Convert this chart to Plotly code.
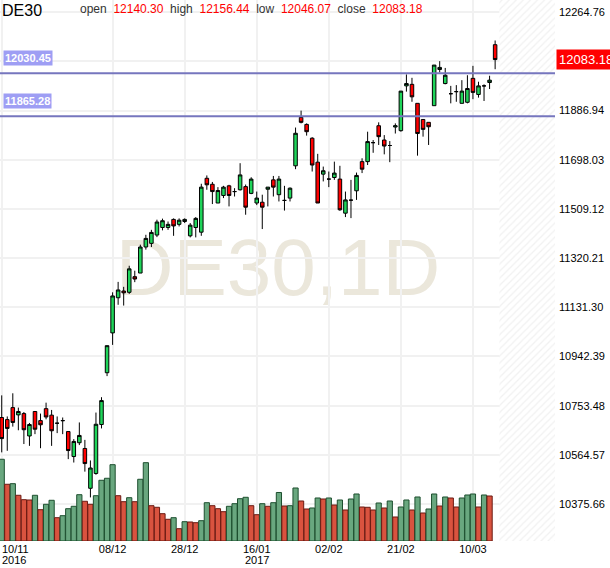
import pandas as pd
import plotly.graph_objects as go

# trading days on the chart (Dec 26 closed)
dates = [d.strftime("%Y-%m-%d") for d in
         pd.bdate_range("2016-11-10", "2017-03-16", freq="C", holidays=["2016-12-26"])]

opens = [10708, 10700, 10746, 10718, 10723, 10637, 10731, 10696, 10742, 10717,
         10686, 10696, 10654, 10558, 10611, 10589, 10436, 10493, 10681, 10880,
         11033, 11168, 11194, 11189, 11249, 11263, 11363, 11377, 11409, 11438,
         11438, 11469, 11450, 11461, 11406, 11438, 11420, 11627, 11604, 11532,
         11561, 11598, 11576, 11583, 11595, 11569, 11532, 11535, 11585, 11621,
         11564, 11542, 11551, 11675, 11861, 11834, 11781, 11689, 11643, 11624,
         11630, 11624, 11493, 11543, 11579, 11691, 11691, 11764, 11829, 11774,
         11753, 11824, 11810, 11982, 11988, 11915, 11853, 11842, 11906, 12045,
         11991, 11952, 11960, 11915, 11919, 12011, 11949, 11982, 11995, 12140.30]
highs = [10793, 10712, 10801, 10746, 10729, 10687, 10733, 10723, 10765, 10737,
         10712, 10708, 10654, 10625, 10689, 10622, 10543, 10727, 10786, 10984,
         11189, 11229, 11210, 11291, 11272, 11372, 11410, 11429, 11468, 11472,
         11461, 11473, 11473, 11473, 11455, 11478, 11606, 11638, 11613, 11593,
         11598, 11602, 11589, 11685, 11603, 11631, 11576, 11564, 11593, 11636,
         11636, 11598, 11592, 11822, 11887, 11838, 11785, 11721, 11672, 11653,
         11691, 11675, 11576, 11621, 11649, 11704, 11806, 11774, 11842, 11793,
         11770, 11838, 11962, 12026, 12013, 11915, 11853, 11842, 12062, 12077,
         12051, 11982, 11985, 12004, 12023, 12059, 11998, 11988, 12021, 12156.44]
lows = [10574, 10580, 10673, 10659, 10606, 10599, 10644, 10590, 10701, 10599,
        10648, 10644, 10548, 10535, 10602, 10500, 10401, 10488, 10666, 10867,
        10987, 11141, 11138, 11183, 11228, 11263, 11353, 11363, 11401, 11427,
        11429, 11406, 11442, 11455, 11400, 11400, 11406, 11583, 11528, 11532,
        11551, 11519, 11557, 11580, 11487, 11566, 11524, 11432, 11519, 11557,
        11538, 11503, 11538, 11662, 11838, 11791, 11653, 11532, 11615, 11593,
        11621, 11502, 11478, 11474, 11544, 11647, 11678, 11725, 11755, 11719,
        11689, 11799, 11806, 11960, 11921, 11714, 11787, 11755, 11906, 12034,
        11988, 11915, 11921, 11915, 11915, 11931, 11937, 11924, 11970, 12046.07]
closes = [10627, 10666, 10689, 10731, 10661, 10681, 10663, 10680, 10710, 10657,
          10686, 10696, 10581, 10616, 10639, 10531, 10514, 10682, 10773, 10984,
          11175, 11198, 11187, 11279, 11240, 11363, 11396, 11419, 11459, 11464,
          11450, 11444, 11466, 11469, 11447, 11473, 11593, 11602, 11576, 11580,
          11593, 11561, 11576, 11640, 11516, 11624, 11551, 11516, 11593, 11593,
          11624, 11542, 11589, 11800, 11842, 11806, 11678, 11532, 11656, 11624,
          11647, 11506, 11544, 11543, 11638, 11662, 11768, 11764, 11787, 11751,
          11753, 11829, 11962, 11991, 11940, 11799, 11815, 11825, 12062, 12053,
          12023, 11952, 11960, 11962, 11972, 11957, 11982, 11982, 12004, 12083.18]

# relative volume, last session has no bar yet
volume = [81.7, 56.7, 57.3, 45.7, 41.3, 41.0, 45.7, 31.3, 36.7, 40.7,
          23.3, 25.3, 32.3, 34.7, 46.3, 39.7, 36.7, 45.3, 60.7, 62.7,
          76.3, 45.3, 39.3, 43.3, 39.3, 61.7, 78.3, 35.3, 33.7, 27.3,
          21.7, 23.3, 12.3, 19.3, 19.0, 18.3, 20.3, 38.3, 35.3, 32.3,
          29.3, 34.7, 37.3, 42.3, 43.7, 35.3, 26.3, 37.3, 34.7, 38.3,
          48.5, 35.0, 35.3, 53.0, 40.0, 32.0, 33.0, 43.0, 42.0, 43.0,
          36.0, 41.0, 31.0, 42.0, 47.0, 34.0, 33.7, 31.0, 38.0, 33.0,
          40.0, 24.0, 34.0, 41.0, 31.0, 44.0, 28.0, 32.0, 47.0, 35.0,
          44.0, 43.0, 34.0, 43.0, 46.0, 47.0, 34.0, 46.0, 45.0]

levels = [12030.45, 11865.28]
price_ticks = [10375.66, 10564.57, 10753.48, 10942.39, 11131.30, 11320.21,
               11509.12, 11698.03, 11886.94, 12075.85, 12264.76]
tick_dates = ["2016-11-10", "2016-12-08", "2016-12-28", "2017-01-16",
              "2017-02-02", "2017-02-21", "2017-03-10"]
tick_labels = ["", "08/12", "28/12", "16/01", "02/02", "21/02", "10/03"]

FONT = "Liberation Sans, Arial, sans-serif"
n = len(dates)
x_range = [-0.31, 99.8]
y_range = [10233.5, 12312]
vol_top = max(volume) * 6.62

vol_fill = []
vol_line = []
for i, v in enumerate(volume):
    up = i == 0 or v >= volume[i - 1]
    vol_fill.append("#69a77f" if up else "#d9533f")
    vol_line.append("#1d4f2f" if up else "#6b1a12")

fig = go.Figure()

# hatched "future" zone right of the last candle
fig.add_trace(go.Scatter(x=[n - 0.23, n + 20, n + 20, n - 0.23], y=[0, 0, vol_top, vol_top],
                         xaxis="x2", yaxis="y2", fill="toself", mode="none",
                         fillcolor="white",
                         fillpattern=dict(shape="/", fgcolor="#e4e4e4", bgcolor="white", size=5, solidity=0.25),
                         hoverinfo="skip", showlegend=False))

fig.add_trace(go.Candlestick(x=dates, open=opens, high=highs, low=lows, close=closes,
                             increasing=dict(fillcolor="#1fd55a", line=dict(color="black", width=1)),
                             decreasing=dict(fillcolor="#ff0000", line=dict(color="black", width=1)),
                             showlegend=False))

fig.add_trace(go.Bar(x=dates[:len(volume)], y=volume, yaxis="y2",
                     marker=dict(color=vol_fill, line=dict(color=vol_line, width=1)),
                     showlegend=False))

for lv in levels:
    fig.add_shape(type="line", xref="paper", x0=0, x1=1, yref="y", y0=lv, y1=lv,
                  line=dict(color="#7676be", width=2), layer="above")
    fig.add_annotation(x=0, xref="paper", xanchor="left", xshift=3, y=lv, yref="y",
                       yanchor="bottom", yshift=7, text="<b>%.2f</b>" % lv, showarrow=False,
                       bgcolor="#9e9ef4", borderpad=1, font=dict(family=FONT, size=11, color="white"))

# watermark under the candles
fig.add_shape(type="rect", xref="paper", yref="paper", x0=0.3, x1=0.7016, y0=0.42, y1=0.62,
              line=dict(width=0), fillcolor="rgba(0,0,0,0)", layer="below",
              label=dict(text="DE30,1D", textposition="middle center",
                         font=dict(family=FONT, size=80, color="#ebe7db")))

fig.add_annotation(x=1, xref="paper", xanchor="left", xshift=1, y=closes[-1], yref="y",
                   text="%.2f" % closes[-1], showarrow=False, bgcolor="#ff0000", borderpad=2,
                   font=dict(family=FONT, size=13, color="white"))

fig.add_annotation(x=0, xref="paper", xanchor="left", y=1, yref="paper", yanchor="top",
                   text="DE30", showarrow=False, font=dict(family=FONT, size=16, color="black"))
header = ("open&nbsp; <span style='color:#ff0000'>%.2f</span>&nbsp; high&nbsp; "
          "<span style='color:#ff0000'>%.2f</span>&nbsp; low&nbsp; "
          "<span style='color:#ff0000'>%.2f</span>&nbsp; close&nbsp; "
          "<span style='color:#ff0000'>%.2f</span>") % (opens[-1], highs[-1], lows[-1], closes[-1])
fig.add_annotation(x=78 / 555, xref="paper", xanchor="left", y=1, yref="paper", yanchor="top",
                   text=header, showarrow=False, font=dict(family=FONT, size=12, color="#333333"))

fig.add_annotation(x=0, xref="paper", xanchor="left", y=0, yref="paper", yanchor="middle", yshift=-8,
                   text="10/11", showarrow=False, font=dict(family=FONT, size=11, color="black"))
fig.add_annotation(x=0, xref="paper", xanchor="left", y=0, yref="paper", yanchor="middle", yshift=-19,
                   text="2016", showarrow=False, font=dict(family=FONT, size=11, color="black"))
fig.add_annotation(x="2017-01-16", xref="x", xanchor="center", y=0, yref="paper", yanchor="middle",
                   yshift=-19, text="2017", showarrow=False, font=dict(family=FONT, size=11, color="black"))

fig.update_layout(
    width=610, height=568,
    margin=dict(l=0, r=55, t=0, b=27),
    paper_bgcolor="white", plot_bgcolor="white",
    showlegend=False,
    boxgap=0.25, boxgroupgap=0.15, bargap=0.06,
    font=dict(family=FONT, size=11, color="black"),
    xaxis=dict(type="category", range=x_range, rangeslider=dict(visible=False),
               tickvals=tick_dates, ticktext=tick_labels, showgrid=True, gridcolor="#f1f1f1",
               gridwidth=1.5, ticks="", showline=False, zeroline=False,
               tickfont=dict(family=FONT, size=11, color="black")),
    xaxis2=dict(overlaying="x", range=x_range, visible=False, showgrid=False),
    yaxis=dict(side="right", range=y_range, tickvals=price_ticks,
               ticktext=["" if v == 12075.85 else "%.2f" % v for v in price_ticks],
               showgrid=True, gridcolor="#f1f1f1", gridwidth=1.5, ticks="", zeroline=False,
               showline=False, ticklabelstandoff=3,
               tickfont=dict(family=FONT, size=11, color="black")),
    yaxis2=dict(overlaying="y", range=[0, vol_top], visible=False, showgrid=False),
    hovermode=False,
)

# page has a default 8px body margin; drop it so the figure sits at the window corner
fig.write_html("out.html", config={"displayModeBar": False},
               post_script="document.body.style.margin='0px';")
